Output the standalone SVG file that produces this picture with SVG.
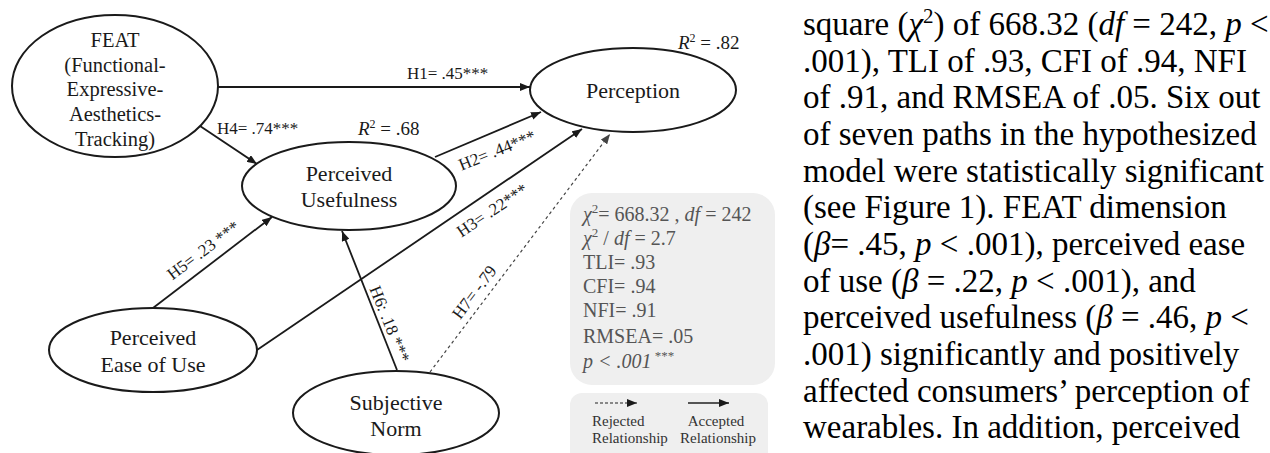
<svg xmlns="http://www.w3.org/2000/svg" width="1270" height="453" viewBox="0 0 1270 453" font-family="'Liberation Serif', 'DejaVu Serif', serif">
<style>
text{font-family:'Liberation Serif','DejaVu Serif',serif;fill:#1a1a1a}
.node ellipse{fill:#fff;stroke:#1a1a1a;stroke-width:2}
.nt{font-size:22px;text-anchor:middle}
.ft{font-size:20.5px;text-anchor:middle}
.lbl{font-size:17px}
.rl{font-size:17px;text-anchor:middle}
.conn line{stroke:#1a1a1a;stroke-width:1.8;fill:none}
.conn line.dash{stroke:#444;stroke-width:1.2;stroke-dasharray:3 3}
.box{fill:#efefef}
.st{font-size:20px;fill:#555}
.lg{font-size:15px;fill:#333}
.para{font-size:33px;fill:#000}
.i{font-style:italic}
</style>
<defs>
<marker id="ah" markerUnits="userSpaceOnUse" markerWidth="10" markerHeight="8" refX="10" refY="4" orient="auto">
<path d="M0,0 L10,4 L0,8 z" fill="#1a1a1a"/>
</marker>
<marker id="ahg" markerUnits="userSpaceOnUse" markerWidth="10" markerHeight="8" refX="10" refY="4" orient="auto">
<path d="M0,0 L10,4 L0,8 z" fill="#444"/>
</marker>
</defs>

<g id="connectors" class="conn">
<line x1="217" y1="87" x2="530" y2="87" marker-end="url(#ah)"/>
<line x1="200" y1="126" x2="257" y2="164" marker-end="url(#ah)"/>
<line x1="435" y1="157" x2="541" y2="112" marker-end="url(#ah)"/>
<line x1="257" y1="350" x2="582" y2="129" marker-end="url(#ah)"/>
<line x1="153" y1="308" x2="272" y2="217" marker-end="url(#ah)"/>
<line x1="397" y1="370" x2="342" y2="231" marker-end="url(#ah)"/>
<line class="dash" x1="430" y1="372" x2="610" y2="134" marker-end="url(#ahg)"/>
</g>

<g id="labels">
<text class="lbl" x="407" y="79">H1= .45***</text>
<text class="lbl" x="217" y="134">H4= .74***</text>
<text class="rl" transform="translate(497,150) rotate(-22)" x="0" y="6">H2= .44***</text>
<text class="rl" transform="translate(492,210) rotate(-34)" x="0" y="6">H3= .22***</text>
<text class="rl" transform="translate(203,250) rotate(-37)" x="0" y="6">H5= .23 ***</text>
<text class="rl" transform="translate(390,324) rotate(68)" x="0" y="6">H6: .18 ***</text>
<text class="rl" transform="translate(474,292) rotate(-53)" x="0" y="6">H7= -.79</text>
<text x="358" y="135" font-size="19"><tspan class="i">R</tspan><tspan font-size="12" dy="-7">2</tspan><tspan dy="7"> = .68</tspan></text>
<text x="678" y="49" font-size="19"><tspan class="i">R</tspan><tspan font-size="12" dy="-7">2</tspan><tspan dy="7"> = .82</tspan></text>
</g>

<g id="feat" class="node">
<ellipse cx="115" cy="86" rx="103" ry="71"/>
<text class="ft" x="115" y="47">FEAT</text>
<text class="ft" x="115" y="72">(Functional-</text>
<text class="ft" x="115" y="96">Expressive-</text>
<text class="ft" x="115" y="121">Aesthetics-</text>
<text class="ft" x="115" y="146">Tracking)</text>
</g>

<g id="perceived-usefulness" class="node">
<ellipse cx="349" cy="186" rx="107" ry="44"/>
<text class="nt" x="349" y="181">Perceived</text>
<text class="nt" x="349" y="207">Usefulness</text>
</g>

<g id="perception" class="node">
<ellipse cx="633" cy="90" rx="103" ry="42"/>
<text class="nt" x="633" y="98">Perception</text>
</g>

<g id="perceived-ease" class="node">
<ellipse cx="153" cy="350" rx="104" ry="42"/>
<text class="nt" x="153" y="345">Perceived</text>
<text class="nt" x="153" y="372">Ease of Use</text>
</g>

<g id="subjective-norm" class="node">
<ellipse cx="396" cy="413" rx="103" ry="42"/>
<text class="nt" x="396" y="410">Subjective</text>
<text class="nt" x="396" y="436">Norm</text>
</g>

<g id="stats">
<rect class="box" x="570" y="193" width="205" height="192" rx="22"/>
<text class="st" x="583" y="221"><tspan class="i">χ</tspan><tspan font-size="13" dy="-8">2</tspan><tspan dy="8">= 668.32 , </tspan><tspan class="i">df</tspan><tspan> = 242</tspan></text>
<text class="st" x="583" y="245"><tspan class="i">χ</tspan><tspan font-size="13" dy="-8">2</tspan><tspan dy="8"> / </tspan><tspan class="i">df</tspan><tspan> = 2.7</tspan></text>
<text class="st" x="583" y="269">TLI= .93</text>
<text class="st" x="583" y="293">CFI= .94</text>
<text class="st" x="583" y="317">NFI= .91</text>
<text class="st" x="583" y="343">RMSEA= .05</text>
<text class="st" x="583" y="368"><tspan class="i">p &lt; .001</tspan><tspan font-size="13" dy="-8"> ***</tspan></text>
</g>

<g id="legend">
<rect class="box" x="570" y="393" width="198" height="80" rx="12"/>
<line x1="595" y1="403" x2="637" y2="403" stroke="#222" stroke-width="1.2" stroke-dasharray="3 2" marker-end="url(#ah)"/>
<line x1="688" y1="403" x2="729" y2="403" stroke="#222" stroke-width="1.4" marker-end="url(#ah)"/>
<text class="lg" x="592" y="426">Rejected</text>
<text class="lg" x="592" y="443">Relationship</text>
<text class="lg" x="716" y="426" text-anchor="middle">Accepted</text>
<text class="lg" x="718" y="443" text-anchor="middle">Relationship</text>
</g>

<g id="paragraph">
<text class="para" x="803" y="35">square (<tspan class="i">χ</tspan><tspan font-size="21" dy="-12">2</tspan><tspan dy="12">) of 668.32 (</tspan><tspan class="i">df</tspan> = 242, <tspan class="i">p</tspan> &lt;</text>
<text class="para" x="803" y="72">.001), TLI of .93, CFI of .94, NFI</text>
<text class="para" x="803" y="108">of .91, and RMSEA of .05. Six out</text>
<text class="para" x="803" y="145">of seven paths in the hypothesized</text>
<text class="para" x="803" y="182">model were statistically significant</text>
<text class="para" x="803" y="218">(see Figure 1). FEAT dimension</text>
<text class="para" x="803" y="255">(<tspan class="i">β</tspan>= .45, <tspan class="i">p</tspan> &lt; .001), perceived ease</text>
<text class="para" x="803" y="292">of use (<tspan class="i">β</tspan> = .22, <tspan class="i">p</tspan> &lt; .001), and</text>
<text class="para" x="803" y="328">perceived usefulness (<tspan class="i">β</tspan> = .46, <tspan class="i">p</tspan> &lt;</text>
<text class="para" x="803" y="365">.001) significantly and positively</text>
<text class="para" x="803" y="402">affected consumers’ perception of</text>
<text class="para" x="803" y="438">wearables. In addition, perceived</text>
</g>
</svg>
